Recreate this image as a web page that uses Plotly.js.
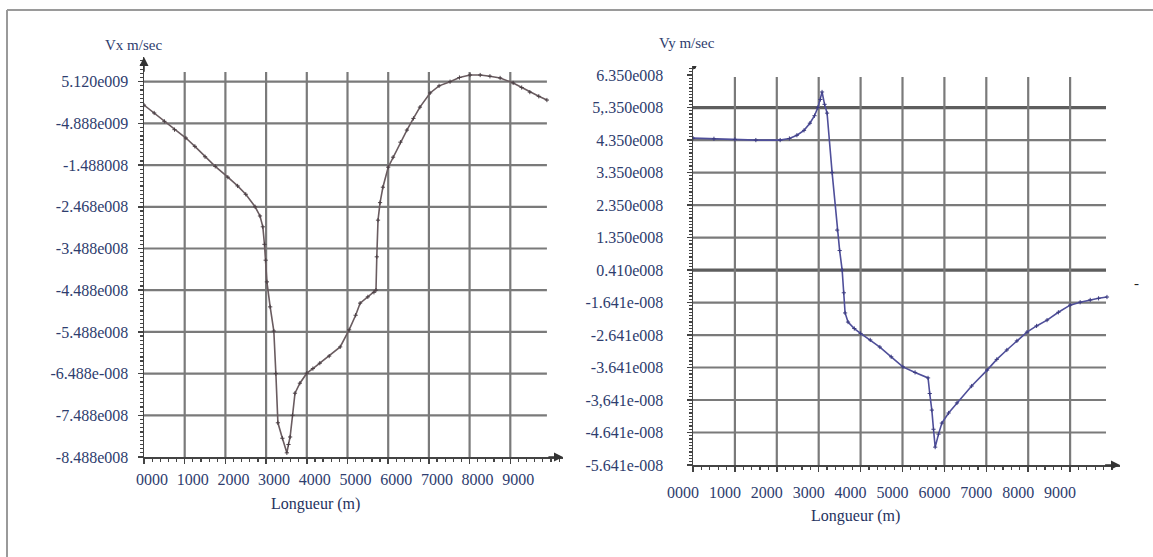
<!DOCTYPE html>
<html>
<head>
<meta charset="utf-8">
<script src="https://cdn.plot.ly/plotly-3.0.1.min.js"></script>
<style>html,body{margin:0;padding:0;background:#fff;}#chart{width:1153px;height:557px;}</style>
</head>
<body>
<div id="chart"></div>
<script>
// ---- Data ----
// Left panel: Vx, x in metres, y in tick-slot units (0 = bottom label, 9 = top label)
const vxLength = [0, 250, 500, 750, 1030, 1250, 1500, 1750, 2060, 2300, 2500, 2730, 2850, 2920, 2960, 2990, 3020, 3100, 3190, 3240, 3290, 3400, 3510, 3550, 3590, 3650, 3710, 3830, 4000, 4150, 4320, 4550, 4820, 5040, 5200, 5310, 5500, 5650, 5700, 5720, 5750, 5800, 5870, 6000, 6120, 6300, 6460, 6620, 6780, 7030, 7250, 7520, 7750, 8010, 8260, 8500, 8750, 9070, 9280, 9480, 9700, 9900];
const vxValue  = [8.44, 8.25, 8.05, 7.85, 7.65, 7.45, 7.2, 6.97, 6.71, 6.5, 6.3, 6.0, 5.78, 5.52, 5.1, 4.72, 4.2, 3.6, 3.02, 2.0, 0.82, 0.45, 0.1, 0.3, 0.48, 1.0, 1.53, 1.77, 2.01, 2.12, 2.25, 2.42, 2.64, 3.05, 3.4, 3.69, 3.84, 3.95, 4.0, 4.8, 5.68, 6.1, 6.47, 6.95, 7.19, 7.55, 7.84, 8.12, 8.39, 8.73, 8.9, 9.0, 9.1, 9.16, 9.16, 9.13, 9.09, 8.97, 8.86, 8.75, 8.65, 8.56];
const vxTickText = ['-8.488e008', '-7.488e008', '-6.488e-008', '-5.488e008', '-4.488e008', '-3.488e008', '-2.468e008', '-1.488008', '-4.888e009', '5.120e009'];

// Right panel: Vy, y in tick-slot units (0 = bottom label, 12 = top label)
const vyLength = [0, 500, 1000, 1500, 2080, 2300, 2480, 2650, 2790, 2900, 2980, 3040, 3080, 3140, 3200, 3320, 3440, 3500, 3560, 3600, 3630, 3700, 3850, 4000, 4230, 4460, 4730, 5010, 5300, 5610, 5650, 5700, 5740, 5780, 5860, 5940, 6100, 6300, 6650, 7020, 7250, 7490, 7730, 7970, 8200, 8450, 8720, 9000, 9240, 9480, 9680, 9880];
const vyValue  = [10.06, 10.04, 10.02, 10.0, 10.0, 10.05, 10.15, 10.3, 10.52, 10.75, 11.0, 11.25, 11.48, 11.1, 10.83, 9.0, 7.23, 6.6, 6.0, 5.3, 4.68, 4.4, 4.2, 4.05, 3.85, 3.63, 3.33, 3.02, 2.85, 2.68, 2.2, 1.69, 1.1, 0.55, 0.95, 1.29, 1.6, 1.91, 2.43, 2.92, 3.25, 3.54, 3.82, 4.09, 4.28, 4.46, 4.7, 4.92, 5.01, 5.08, 5.13, 5.17];
const vyTickText = ['-5.641e-008', '-4.641e-008', '-3,641e-008', '-3.641e008', '-2.641e008', '-1.641e-008', '0.410e008', '1.350e008', '2.350e008', '3.350e008', '4.350e008', '5,.350e008', '6.350e008'];

const lengthTicks = [0, 1000, 2000, 3000, 4000, 5000, 6000, 7000, 8000, 9000];
const lengthTickText = ['0000', '1000', '2000', '3000', '4000', '5000', '6000', '7000', '8000', '9000'];

// ---- Layout geometry ----
const W = 1153, H = 557;
const fx = p => p / W, fy = p => (H - p) / H;
const TXT = '#2e3d6e';
const FONT = 'Liberation Serif, Times New Roman, serif';
const GRID = '#7a7a7a';

const vxTickVals = vxTickText.map((_, i) => i);
const vyTickVals = vyTickText.map((_, i) => i);

const LX_MAX = 10295, LY_MAX = 9.59, RX_MAX = 10191, RY_MAX = 12.28;

const shapes = [];
// left grid
vxTickVals.slice(1).forEach(v => shapes.push({type:'line', xref:'x', yref:'y', x0:0, x1:9900, y0:v, y1:v, line:{color:GRID, width:2.2}, layer:'below'}));
lengthTicks.slice(1).forEach(v => shapes.push({type:'line', xref:'x', yref:'y', x0:v, x1:v, y0:0, y1:9.23, line:{color:GRID, width:2.2}, layer:'below'}));
// right grid
vyTickVals.slice(1, 12).forEach(v => {
  const heavy = (v === 6 || v === 11);
  shapes.push({type:'line', xref:'x2', yref:'y2', x0:0, x1:9857, y0:v, y1:v, line:{color: heavy ? '#5e5e5e' : GRID, width: heavy ? 3.2 : 2.2}, layer:'below'});
});
lengthTicks.slice(1).forEach(v => shapes.push({type:'line', xref:'x2', yref:'y2', x0:v, x1:v, y0:0, y1:11.94, line:{color:GRID, width:2.2}, layer:'below'}));
// frame
shapes.push({type:'line', xref:'paper', yref:'paper', x0:fx(7), x1:fx(7), y0:0, y1:fy(10), line:{color:'#9a9a9a', width:2}});
shapes.push({type:'line', xref:'paper', yref:'paper', x0:fx(7), x1:1, y0:fy(10), y1:fy(10), line:{color:'#9a9a9a', width:2}});
// dot at top of right y-axis
shapes.push({type:'circle', xref:'x2', yref:'y2', xsizemode:'pixel', ysizemode:'pixel', xanchor:0, yanchor:RY_MAX, x0:-3, x1:3, y0:-3, y1:3, fillcolor:'#333', line:{color:'#333', width:1}});

const arrow = (xr, yr, x, y, ax, ay) => ({xref:xr, yref:yr, axref:xr, ayref:yr, x:x, y:y, ax:ax, ay:ay, text:'', showarrow:true, arrowhead:2, arrowsize:1.2, arrowwidth:1.5, arrowcolor:'#333'});
const label = (px, py, text, size, color) => ({xref:'paper', yref:'paper', x:fx(px), y:fy(py), xanchor:'center', yanchor:'middle', text:text, showarrow:false, font:{family:FONT, size:size, color:color}});

const annotations = [
  arrow('x', 'y', 0, LY_MAX, 0, 9.2),
  arrow('x', 'y', LX_MAX, 0, 9900, 0),
  arrow('x2', 'y2', RX_MAX, 0, 9800, 0),
  label(133, 45, 'Vx m/sec', 15, TXT),
  label(687, 43, 'Vy m/sec', 15, TXT),
  label(315, 504, 'Longueur (m)', 16, '#253260'),
  label(855, 516, 'Longueur (m)', 16, '#253260'),
  label(1136, 283, '-', 15, '#222')
];

const tickFont = {family:FONT, size:16, color:TXT};
const common = {showgrid:false, zeroline:false, showline:true, linecolor:'#444', linewidth:1.5, ticks:'outside', tickcolor:'#444', ticklen:5, tickwidth:1.5, tickfont:tickFont, tickmode:'array', fixedrange:true};

const layout = {
  width: W, height: H,
  margin: {l:0, r:0, t:0, b:0},
  paper_bgcolor:'#fff', plot_bgcolor:'rgba(0,0,0,0)',
  showlegend:false,
  xaxis: Object.assign({}, common, {domain:[fx(144), fx(563)], range:[0, LX_MAX], tickvals:lengthTicks, ticktext:lengthTickText, anchor:'y', ticklabelstandoff:2, ticklabelshift:8,
    minor:{tickmode:'linear', tick0:0, dtick:200, ticks:'outside', ticklen:3, tickcolor:'#444', tickwidth:1.2}}),
  yaxis: Object.assign({}, common, {domain:[fy(457), fy(57.1)], range:[0, LY_MAX], tickvals:vxTickVals, ticktext:vxTickText, anchor:'x', ticklabelstandoff:6,
    minor:{tickmode:'linear', tick0:0, dtick:0.1, ticks:'outside', ticklen:3, tickcolor:'#444', tickwidth:1.2}}),
  xaxis2: Object.assign({}, common, {domain:[fx(693), fx(1120)], range:[0, RX_MAX], tickvals:lengthTicks, ticktext:lengthTickText, anchor:'y2', ticklabelstandoff:7, ticklabelshift:-10,
    minor:{tickmode:'linear', tick0:0, dtick:200, ticks:'outside', ticklen:3, tickcolor:'#444', tickwidth:1.2}}),
  yaxis2: Object.assign({}, common, {domain:[fy(465), fy(66)], range:[0, RY_MAX], tickvals:vyTickVals, ticktext:vyTickText, anchor:'x2', ticklabelstandoff:20,
    minor:{tickmode:'linear', tick0:0, dtick:0.1, ticks:'outside', ticklen:3, tickcolor:'#444', tickwidth:1.2}}),
  shapes: shapes,
  annotations: annotations
};

const traces = [
  {x: vxLength, y: vxValue, xaxis:'x', yaxis:'y', type:'scatter', mode:'lines+markers',
   line:{color:'#6a5c60', width:1.6}, marker:{size:3, color:'#4a3f44', symbol:'cross-thin', line:{color:'#4a3f44', width:1}}, hoverinfo:'skip'},
  {x: vyLength, y: vyValue, xaxis:'x2', yaxis:'y2', type:'scatter', mode:'lines+markers',
   line:{color:'#4f4f9a', width:1.6}, marker:{size:3, color:'#3c3c80', symbol:'cross-thin', line:{color:'#3c3c80', width:1}}, hoverinfo:'skip'}
];

Plotly.newPlot('chart', traces, layout, {displayModeBar:false, staticPlot:true});
</script>
</body>
</html>
